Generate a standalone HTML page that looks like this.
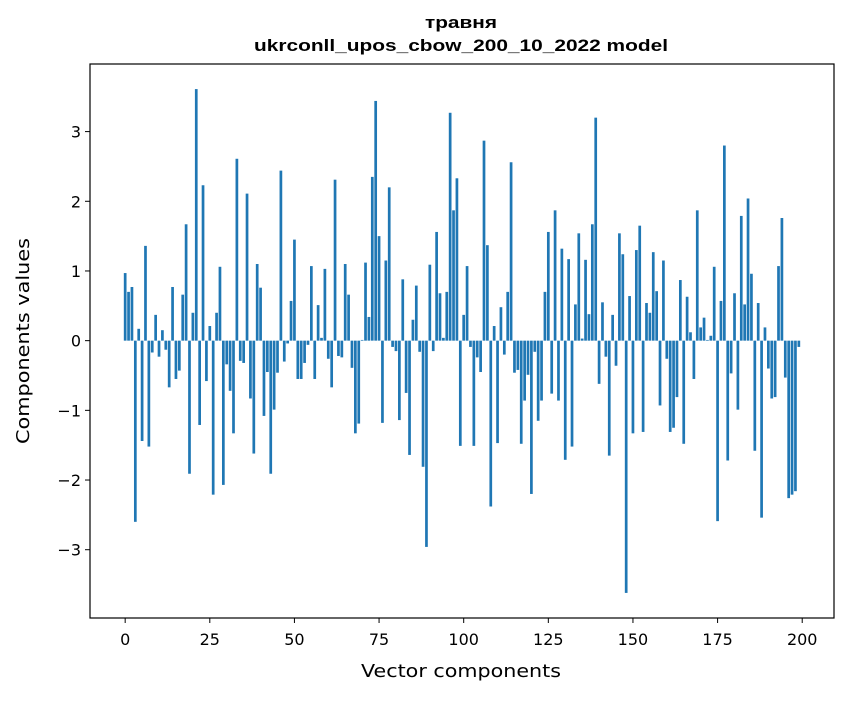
<!DOCTYPE html>
<html><head><meta charset="utf-8"><style>
html,body{margin:0;padding:0;background:#fff;}
svg text{font-family:"DejaVu Sans","Liberation Sans",sans-serif;fill:#000;}
svg text.ttl{font-family:"Liberation Sans","DejaVu Sans",sans-serif;}
</style></head><body>
<svg id="chart" width="847" height="696" viewBox="0 0 847 696" xmlns="http://www.w3.org/2000/svg">
<text class="ttl" x="461" y="28" text-anchor="middle" font-size="17" font-weight="bold" textLength="72" lengthAdjust="spacingAndGlyphs">травня</text>
<text class="ttl" x="461" y="51" text-anchor="middle" font-size="17" font-weight="bold" textLength="414" lengthAdjust="spacingAndGlyphs">ukrconll_upos_cbow_200_10_2022 model</text>
<g id="bars"></g>
<g id="xticks"></g>
<g id="yticks"></g>
<rect x="90" y="64" width="744" height="554" fill="none" stroke="#000" stroke-width="1.2"/>
<text x="461" y="677" text-anchor="middle" font-size="18" textLength="200" lengthAdjust="spacingAndGlyphs">Vector components</text>
<text transform="translate(29,341) rotate(-90)" text-anchor="middle" font-size="18" textLength="206" lengthAdjust="spacingAndGlyphs">Components values</text>
</svg>
<script>
const values = [0.97,0.70,0.77,-2.60,0.17,-1.44,1.36,-1.52,-0.17,0.37,
-0.23,0.15,-0.13,-0.67,0.77,-0.55,-0.43,0.66,1.67,-1.91,
0.40,3.61,-1.21,2.23,-0.58,0.21,-2.21,0.40,1.06,-2.07,
-0.34,-0.72,-1.33,2.61,-0.29,-0.32,2.11,-0.83,-1.62,1.10,
0.76,-1.08,-0.45,-1.91,-0.99,-0.46,2.44,-0.30,-0.04,0.57,
1.45,-0.55,-0.55,-0.32,-0.06,1.07,-0.55,0.51,0.04,1.03,
-0.26,-0.67,2.31,-0.22,-0.24,1.10,0.66,-0.39,-1.33,-1.19,
0.01,1.12,0.34,2.35,3.44,1.50,-1.18,1.15,2.20,-0.09,
-0.15,-1.14,0.88,-0.75,-1.64,0.30,0.79,-0.16,-1.81,-2.96,
1.09,-0.15,1.56,0.68,0.04,0.70,3.27,1.87,2.33,-1.51,
0.37,1.07,-0.09,-1.51,-0.24,-0.45,2.87,1.37,-2.38,0.21,
-1.47,0.48,-0.20,0.70,2.56,-0.46,-0.42,-1.48,-0.86,-0.49,
-2.20,-0.16,-1.15,-0.86,0.70,1.56,-0.76,1.87,-0.86,1.32,
-1.71,1.17,-1.52,0.52,1.54,0.03,1.16,0.38,1.67,3.20,
-0.62,0.55,-0.23,-1.65,0.37,-0.36,1.54,1.24,-3.62,0.64,
-1.33,1.30,1.65,-1.31,0.54,0.40,1.27,0.71,-0.93,1.15,
-0.26,-1.31,-1.25,-0.81,0.87,-1.48,0.63,0.12,-0.55,1.87,
0.19,0.33,0.01,0.07,1.06,-2.59,0.57,2.80,-1.72,-0.47,
0.68,-0.99,1.79,0.52,2.04,0.96,-1.58,0.54,-2.54,0.19,
-0.40,-0.83,-0.81,1.07,1.76,-0.53,-2.26,-2.21,-2.16,-0.09];
const xTickLabels = [0,25,50,75,100,125,150,175,200];
const yTickLabels = [-3,-2,-1,0,1,2,3];
const xMin=-10.39, xMax=209.39, yMin=-3.98, yMax=3.97;
const L=90,R=834,T=64,B=618;
const NS="http://www.w3.org/2000/svg";
function xs(v){return L+(v-xMin)/(xMax-xMin)*(R-L);}
function ys(v){return B-(v-yMin)/(yMax-yMin)*(B-T);}
const bars=document.getElementById('bars');
const bw=xs(0.8)-xs(0);
values.forEach((v,i)=>{
  const r=document.createElementNS(NS,'rect');
  const y0=ys(0), y1=ys(v);
  r.setAttribute('x',xs(i)-bw/2);
  r.setAttribute('y',Math.min(y0,y1));
  r.setAttribute('width',bw);
  r.setAttribute('height',Math.abs(y1-y0));
  r.setAttribute('fill','#1f77b4');
  
  
  bars.appendChild(r);
});
const xt=document.getElementById('xticks');
xTickLabels.forEach(t=>{
  const x=xs(t);
  const l=document.createElementNS(NS,'line');
  l.setAttribute('x1',x);l.setAttribute('x2',x);l.setAttribute('y1',B);l.setAttribute('y2',B+5);
  l.setAttribute('stroke','#000');
  
  
  xt.appendChild(l);
  const tx=document.createElementNS(NS,'text');
  tx.setAttribute('x',x);tx.setAttribute('y',B+27);tx.setAttribute('text-anchor','middle');tx.setAttribute('font-size','16');
  tx.textContent=String(t);
  
  
  xt.appendChild(tx);
});
const yt=document.getElementById('yticks');
yTickLabels.forEach(t=>{
  const y=ys(t);
  const l=document.createElementNS(NS,'line');
  l.setAttribute('x1',L-5);l.setAttribute('x2',L);l.setAttribute('y1',y);l.setAttribute('y2',y);
  l.setAttribute('stroke','#000');
  
  
  yt.appendChild(l);
  const tx=document.createElementNS(NS,'text');
  tx.setAttribute('x',L-9);tx.setAttribute('y',y+6);tx.setAttribute('text-anchor','end');tx.setAttribute('font-size','16');
  tx.textContent=t<0?'\u2212'+Math.abs(t):String(t);
  
  
  yt.appendChild(tx);
});
</script>
</body></html>
